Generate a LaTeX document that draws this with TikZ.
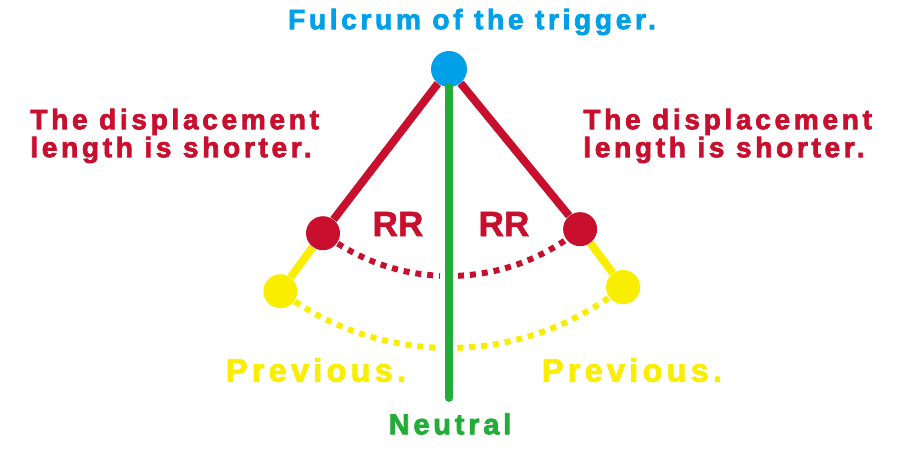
\documentclass[tikz,border=0pt]{standalone}
\usepackage{fontspec}
\usetikzlibrary{calc}
\newfontfamily\spaced{Liberation Sans}[LetterSpace=13,FakeBold=2.5]
\newfontfamily\plain{Liberation Sans}[FakeBold=1.5]
\definecolor{fblue}{RGB}{0,160,233}
\definecolor{fred}{RGB}{200,16,46}
\definecolor{fgreen}{RGB}{34,172,56}
\definecolor{fyellow}{RGB}{250,238,0}

\begin{document}
\begin{tikzpicture}[x=0.02cm,y=0.02cm,
  dot/.style={circle,inner sep=0pt,minimum size=0.68cm},
  arm/.style={line width=4.5pt},
  swing/.style={line width=3.4pt,dash pattern=on 3.4pt off 3.4pt},
  label/.style={font=\spaced\bfseries\fontsize{16}{13}\selectfont,inner sep=0pt,align=left}]
\useasboundingbox (0,0) rectangle (900,460);

% pivot and neutral position
\node [dot,fill=fblue,minimum size=0.72cm] (top) at (449,391) {};
\coordinate (bottom) at (449,62);
\draw [fgreen,arm,line cap=round] (top) -- (bottom);

% current (RR) and previous positions
\node [dot,fill=fred] (rleft) at ($(top)+(232.5:207)$) {};
\node [dot,fill=fred] (rright) at ($(top)+(309.3:207)$) {};
\node [dot,fill=fyellow] (yleft) at ($(top)+(232.8:279)$) {};
\node [dot,fill=fyellow] (yright) at ($(top)+(308.6:279)$) {};
\draw [fred,arm] (top) -- (rleft);
\draw [fred,arm] (top) -- (rright);
\draw [fyellow,arm] (rleft) -- (yleft);
\draw [fyellow,arm] (rright) -- (yright);

% swing arcs
\draw [fred,swing] (top) ++(237.5:207) arc [start angle=237.5, end angle=267.5, radius=207];
\draw [fred,swing] (top) ++(272.5:207) arc [start angle=272.5, end angle=304.6, radius=207];
\draw [fyellow,swing] (top) ++(236.5:279) arc [start angle=236.5, end angle=268.3, radius=279];
\draw [fyellow,swing] (top) ++(271.7:279) arc [start angle=271.7, end angle=305.1, radius=279];

% texts
\node [label,fblue] (fulcrum) at (472,438) {Fulcrum of the trigger.};
\node [label,fred,anchor=west] (shortl) at (30,324) {The displacement\\length is shorter.};
\node [label,fred,anchor=west] (shortr) at (583,324) {The displacement\\length is shorter.};
\node [font=\plain\bfseries\fontsize{20}{20}\selectfont,fred] (rrl) at (398,236) {RR};
\node [font=\plain\bfseries\fontsize{20}{20}\selectfont,fred] (rrr) at (504,236) {RR};
\node [label,fyellow,font=\spaced\bfseries\fontsize{18.5}{18.5}\selectfont] (prevl) at (316,90) {Previous.};
\node [label,fyellow,font=\spaced\bfseries\fontsize{18.5}{18.5}\selectfont] (prevr) at (632,90) {Previous.};
\node [label,fgreen,font=\spaced\bfseries\fontsize{16.5}{16.5}\selectfont] (neutral) at (450,36) {Neutral};
\end{tikzpicture}
\end{document}
